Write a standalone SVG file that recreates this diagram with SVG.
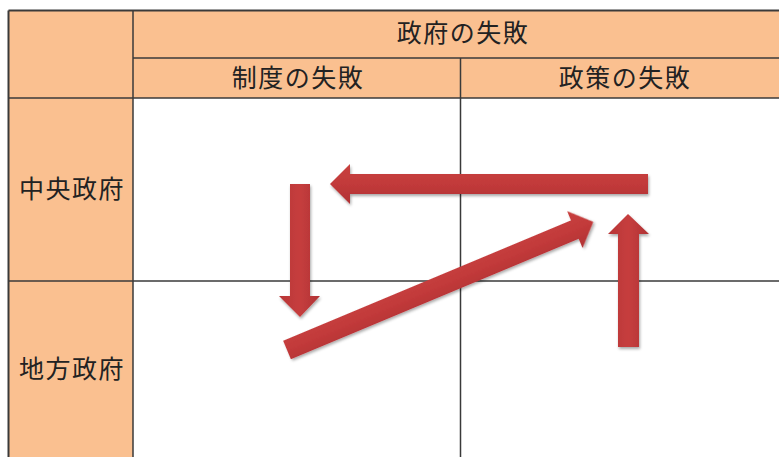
<svg xmlns="http://www.w3.org/2000/svg" width="779" height="457" viewBox="0 0 779 457">
<style>
.hdr{fill:#FAC090}
.ln{stroke:#3a3a3a;stroke-width:1.5;fill:none}
.bd{stroke:#3a3a3a;stroke-width:2;fill:none}
.t{font-family:"Noto Sans CJK JP","Noto Sans",sans-serif;font-size:25px;letter-spacing:1.5px;fill:#222;text-anchor:middle;dominant-baseline:central}
.arr{fill:url(#ag);filter:url(#sh)}
.arrv{fill:url(#agv);filter:url(#sh)}
</style>
<defs>
<linearGradient id="ag" x1="0" y1="0" x2="0" y2="1">
<stop offset="0" stop-color="#C8403F"/>
<stop offset="0.5" stop-color="#C23A3A"/>
<stop offset="1" stop-color="#B03234"/>
</linearGradient>
<linearGradient id="agv" x1="0" y1="0" x2="1" y2="0">
<stop offset="0" stop-color="#B83536"/>
<stop offset="0.5" stop-color="#C63E3E"/>
<stop offset="1" stop-color="#B03234"/>
</linearGradient>
<filter id="sh" x="-10%" y="-20%" width="120%" height="140%">
<feGaussianBlur in="SourceAlpha" stdDeviation="1.5"/>
<feOffset dx="1" dy="2" result="b"/>
<feComponentTransfer><feFuncA type="linear" slope="0.35"/></feComponentTransfer>
<feMerge><feMergeNode/><feMergeNode in="SourceGraphic"/></feMerge>
</filter>
</defs>
<rect width="779" height="457" fill="#ffffff"/>
<g id="table">
<rect class="hdr" x="8.5" y="10.5" width="124.5" height="447"/>
<rect class="hdr" x="133" y="10.5" width="646" height="87.5"/>
<line class="ln" x1="133" y1="58" x2="779" y2="58"/>
<line class="ln" x1="8.5" y1="98" x2="779" y2="98"/>
<line class="ln" x1="460.5" y1="58" x2="460.5" y2="457"/>
<line class="ln" x1="8.5" y1="281" x2="779" y2="281"/>
<line class="ln" x1="133" y1="10.5" x2="133" y2="457"/>
<line class="bd" x1="8.5" y1="10.5" x2="779" y2="10.5"/>
<line class="bd" x1="8.5" y1="10.5" x2="8.5" y2="457"/>
</g>
<g id="header-main"><text class="t" x="463" y="31">政府の失敗</text></g>
<g id="header-seido"><text class="t" x="298" y="76">制度の失敗</text></g>
<g id="header-seisaku"><text class="t" x="625" y="76">政策の失敗</text></g>
<g id="row-chuo"><text class="t" x="72" y="187">中央政府</text></g>
<g id="row-chiho"><text class="t" x="72" y="367">地方政府</text></g>
<g id="connectors">
<polygon class="arr" points="648,174 350,174 350,164 330,184 350,204 350,194 648,194"/>
<polygon class="arrv" points="290,184 310,184 310,296 320,296 300,317 279,296 290,296"/>
<polygon class="arrv" points="618,347 639,347 639,234 649,234 628,214 608,234 618,234"/>
<polygon class="arr" transform="translate(287,350) rotate(-22.7)" points="0,-10 312,-10 312,-20 332,0 312,20 312,10 0,10"/>
</g>
</svg>
